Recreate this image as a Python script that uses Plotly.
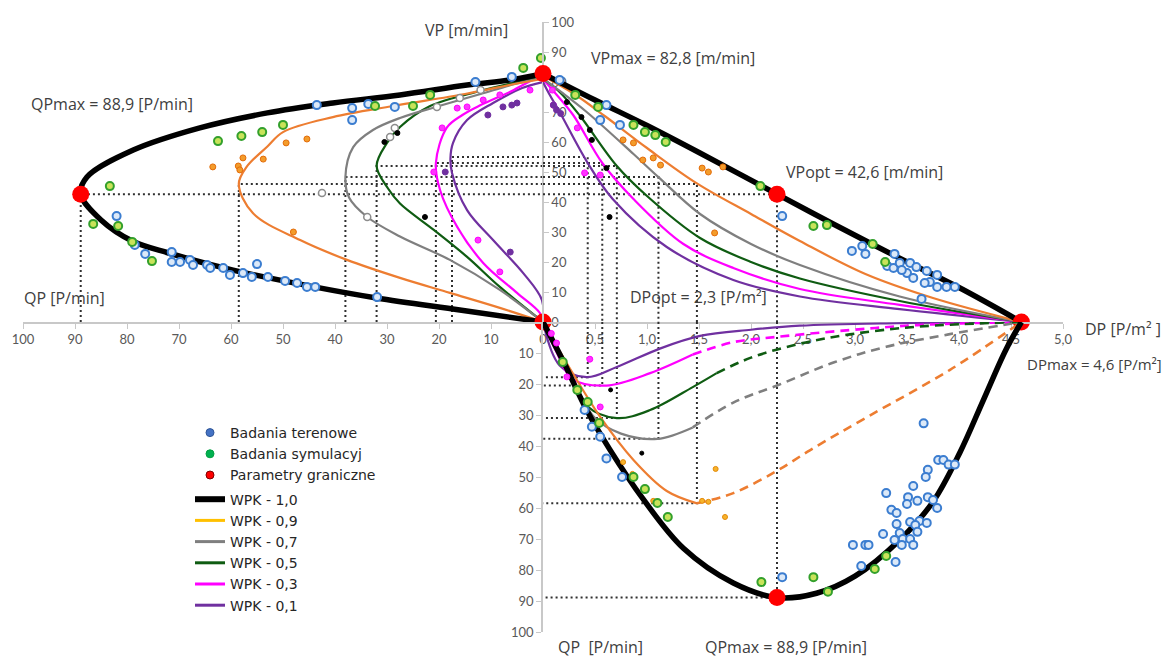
import plotly.graph_objects as go

# page body has an 8px margin: figure is sized to fill the rest of the 1172x657 window
OFF = 8
W, H = 1172 - OFF, 657 - OFF

# ---------------- axis ticks ----------------
LEFT_QP_TICKS = [0, 10, 20, 30, 40, 50, 60, 70, 80, 90, 100]
LEFT_QP_TEXT = ["0", "10", "20", "30", "40", "50", "60", "70", "80", "90", "100"]
DP_TICKS = [0, 0.5, 1.0, 1.5, 2.0, 2.5, 3.0, 3.5, 4.0, 4.5, 5.0]
DP_TEXT = ["", "0,5", "1,0", "1,5", "2,0", "2,5", "3,0", "3,5", "4,0", "4,5", "5,0"]
VP_TICKS = [0, 10, 20, 30, 40, 50, 60, 70, 80, 90, 100]
VP_TEXT = ["0", "10", "20", "30", "40", "50", "60", "70", "80", "90", "100"]
LOW_QP_TICKS = [0, 10, 20, 30, 40, 50, 60, 70, 80, 90, 100]
LOW_QP_TEXT = ["", "10", "20", "30", "40", "50", "60", "70", "80", "90", "100"]

WPK_NAMES = ["WPK - 1,0", "WPK - 0,9", "WPK - 0,7", "WPK - 0,5", "WPK - 0,3", "WPK - 0,1"]
WPK_COLORS = ["#000000", "#ed7d31", "#7f7f7f", "#0f5c12", "#ff00ff", "#7030a0"]
WPK_LEGEND_COLORS = ["#000000", "#ffc000", "#7f7f7f", "#0f5c12", "#ff00ff", "#7030a0"]
WPK_WIDTHS = [5.5, 2.2, 2.2, 2.2, 2.2, 2.2]

# ---------------- left quadrant: QP [P/min] vs VP [m/min] ----------------
L10_QP = [0, 16, 32, 44, 59.6, 72, 79, 85, 88.9, 87.7, 78.8, 66, 53, 40.4, 27.5, 14.6, 6.3, 0]
L10_VP = [0, 4, 8, 11.7, 17.3, 23, 27, 34, 42.6, 48.3, 57.3, 64.7, 69.7, 73, 75.7, 79, 80.7, 82.8]
L09_QP = [0, 8.3, 17.9, 27.5, 37.7, 46.7, 55.8, 58.5, 57, 53, 50, 40.4, 28.8, 15, 5, 0]
L09_VP = [0, 4.7, 9.7, 14.7, 20.7, 27.3, 36.3, 46, 51.7, 58.5, 63.3, 68.3, 72, 76, 79.5, 81]
L07_QP = [0, 8.3, 17.9, 27.5, 33.8, 37.3, 38, 36.5, 32.7, 27.5, 20, 12, 5, 0]
L07_VP = [0, 10.7, 20.7, 28.5, 35, 41.5, 48.3, 58.3, 64, 68, 72, 76, 79.5, 81.5]
L05_QP = [0, 8.3, 14.6, 21, 27.5, 29.8, 32, 30, 27.5, 21.7, 12, 5, 0]
L05_VP = [0, 11.7, 21.7, 30.7, 39.5, 44.5, 52, 59.7, 65, 72, 77, 80, 82]
L03_QP = [0, 0.6, 5, 11.5, 16.5, 19.8, 20.6, 18.5, 15.5, 12, 6, 2, 0]
L03_VP = [0, 3, 9.7, 19.7, 31.7, 44, 53, 64.8, 69, 72.3, 77, 80.7, 82]
L01_QP = [0, 0.2, 3.8, 9.6, 14.6, 17.5, 17.8, 17.3, 14.6, 9.6, 4, 0]
L01_VP = [0, 7.3, 16.3, 27.3, 37.3, 49.7, 54.5, 59.7, 67.3, 73, 78, 80]

# ---------------- upper right: DP [P/m2] vs VP [m/min] ----------------
U10_DP = [0, 0.5, 1.0, 1.5, 2.25, 2.8, 3.4, 4.0, 4.6]
U10_VP = [82.8, 74, 65.5, 56.5, 42.6, 32.5, 21.8, 11.5, 0]
U09_DP = [0, 0.3, 0.6, 1.0, 1.48, 2.0, 2.47, 3.1, 3.75, 4.6]
U09_VP = [82, 76, 68.5, 58, 46.2, 36, 27, 16, 8, 0]
U07_DP = [0, 0.2, 0.42, 0.87, 1.11, 1.51, 2.0, 2.47, 3.43, 4.6]
U07_VP = [81, 76, 70, 56, 48.3, 36, 26, 19, 8.5, 0]
U05_DP = [0, 0.15, 0.35, 0.71, 1.0, 1.51, 2.0, 2.47, 3.43, 4.6]
U05_VP = [81, 77, 69, 52, 42, 28, 20, 14.5, 7, 0]
U03_DP = [0, 0.1, 0.29, 0.57, 0.87, 1.35, 1.83, 2.47, 3.43, 4.6]
U03_VP = [81, 77, 69, 53, 41, 26, 18, 11, 5.7, 0]
U01_DP = [0, 0.06, 0.16, 0.43, 0.67, 1.19, 1.83, 2.47, 3.43, 4.6]
U01_VP = [80, 76, 70, 53, 41, 25, 14, 8.5, 4.3, 0]

# ---------------- lower right: DP [P/m2] vs QP [P/min] ----------------
D10_DP = [0, 0.2, 0.42, 0.64, 0.96, 1.35, 1.83, 2.25, 2.63, 3.0, 3.43, 3.75, 4.01, 4.23, 4.45, 4.6]
D10_QP = [0, 13, 28.4, 41, 57, 73, 84.2, 88.9, 87.5, 82, 70.3, 58, 42, 25.5, 9, 0]
D09_DP = [0, 0.25, 0.55, 0.87, 1.19, 1.48]
D09_QP = [0, 14.5, 30.6, 44.5, 54.5, 58.5]
D09_DP_DASH = [1.48, 1.83, 2.25, 2.57, 3.12, 3.91, 4.6]
D09_QP_DASH = [58.5, 55.2, 48, 41.3, 30.6, 15.5, 0]
D07_DP = [0, 0.25, 0.5, 0.75, 1.1, 1.44]
D07_QP = [0, 16, 31, 36, 37.7, 34]
D07_DP_DASH = [1.44, 1.83, 2.25, 2.8, 3.3, 3.9, 4.6]
D07_QP_DASH = [34, 26, 20.5, 13, 8, 4, 0]
D05_DP = [0, 0.2, 0.42, 0.71, 1.03, 1.44, 1.67]
D05_QP = [0, 13, 27, 31, 28.4, 21, 16.5]
D05_DP_DASH = [1.67, 2.0, 2.47, 2.95, 3.6, 4.6]
D05_QP_DASH = [16.5, 11.5, 7, 4, 1.5, 0]
D03_DP = [0, 0.12, 0.29, 0.61, 1.03, 1.44]
D03_QP = [0, 9, 18.5, 20.5, 16.5, 10.5]
D03_DP_DASH = [1.44, 1.83, 2.25, 2.95, 3.6, 4.6]
D03_QP_DASH = [10.5, 6.5, 4.8, 2.6, 1, 0]
D01_DP = [0, 0.16, 0.42, 0.71, 1.13, 1.51, 2.0, 2.47, 3.4, 4.6]
D01_QP = [0, 14, 17.8, 14.5, 8.5, 4.5, 2.5, 1.2, 0.4, 0]

# ---------------- optimum values per WPK (dotted guides) ----------------
OPT_QP_LEFT = [88.9, 58.5, 38, 32, 20.6, 17.5]
OPT_VP = [42.6, 46, 48.3, 52, 53, 55]
OPT_DP = [2.25, 1.48, 1.11, 0.71, 0.57, 0.43]
OPT_QP_LOW = [88.9, 58.5, 37.7, 31, 20.5, 17.8]

# ---------------- boundary parameters (red points) ----------------
RED_LEFT_QP = [88.9, 0]
RED_LEFT_VP = [42.6, 0]
RED_UP_DP = [0, 2.25, 4.6]
RED_UP_VP = [82.8, 42.6, 0]
RED_LOW_DP = [2.25]
RED_LOW_QP = [88.9]

# ---------------- field studies (blue) ----------------
BLUE_L_QP = [43.5, 36.7, 33.6, 28.5, 36.7, 82, 78.5, 76.5, 71.4, 71.4, 69.8, 67.9, 67.3, 64.6, 64, 61.5,
             60.2, 57.7, 56, 55, 52.9, 49.6, 47.3, 45.4, 43.8, 31.9, 13, 6]
BLUE_L_VP = [72.3, 71.3, 72.7, 71.7, 67.3, 35.3, 25.7, 22.7, 23.3, 20, 20, 20.7, 19, 19, 18, 18,
             15.7, 16.3, 15, 19.3, 15, 13.7, 13, 11.7, 11.7, 8.3, 80, 81.7]
BLUE_U_DP = [2.3, 2.97, 3.07, 3.1, 3.38, 3.31, 3.37, 3.43, 3.53, 3.59, 3.5, 3.56, 3.69, 3.79, 3.72, 3.67,
             3.79, 3.88, 3.96, 3.64, 3.45, 0.55, 0.61, 0.74, 0.16]
BLUE_U_VP = [35.3, 23.7, 25.3, 22.7, 22.7, 18.7, 18, 19.7, 19.7, 18.3, 16.3, 14.7, 17, 15.7, 13.3, 13,
             11.7, 11.7, 11.7, 7.7, 17.3, 67.3, 72.3, 65.7, 80.7]
BLUE_D_DP = [0.4, 0.47, 0.55, 0.61, 0.76, 2.3, 3.66, 3.8, 3.85, 3.9, 3.96, 3.7, 3.68, 3.56, 3.3, 3.51, 3.5,
             3.6, 3.7, 3.75, 3.79, 3.35, 3.4, 3.4, 3.53, 3.62, 3.58, 3.69, 3.6, 3.43, 3.27, 3.38, 3.46,
             3.53, 3.45, 3.56, 2.98, 3.1, 3.13, 3.06, 3.39]
BLUE_D_QP = [28.4, 33.8, 37, 44, 50, 82.3, 32.7, 44.5, 44.5, 46, 46, 47.7, 50, 52.9, 55.2, 56.5, 58.7,
             57.7, 56.5, 57.4, 60, 60.6, 61.6, 65.2, 64.5, 64.2, 65.5, 64.8, 67.7, 68.1, 68.4, 70.3, 70,
             70, 71.9, 71.9, 71.9, 71.9, 71.9, 78.7, 77.4]

# ---------------- simulation studies (green) ----------------
GREEN_L_QP = [50, 54, 58, 62.5, 32.3, 83.3, 86.5, 81.7, 79, 75.2, 3.8, 0.4, 21.7, 25]
GREEN_L_VP = [65.7, 63.3, 62, 60.3, 72, 45.3, 32.7, 32, 26.7, 20.3, 84.7, 88, 75.7, 72]
GREEN_U_DP = [2.09, 2.6, 2.73, 3.17, 3.29, 0.53, 0.87, 0.98, 1.08, 1.18, 0.31]
GREEN_U_VP = [45.3, 32, 32.3, 26, 20, 71.7, 65.7, 63.3, 62.3, 60, 75.7]
GREEN_D_DP = [0.19, 0.33, 0.43, 0.54, 0.87, 0.98, 1.1, 1.2, 2.1, 2.6, 2.74, 3.19, 3.3]
GREEN_D_QP = [12.9, 21.9, 25.8, 32.6, 50, 53.9, 58.4, 62.9, 83.9, 82.3, 87, 79.7, 75.5]

# ---------------- WPK simulation points ----------------
ORANGE_L_QP = [63.5, 58.6, 57.7, 58.3, 53.8, 49.4, 45.4, 48]
ORANGE_L_VP = [51.7, 52, 54.7, 50.7, 54.3, 59.7, 61, 30]
ORANGE_U_DP = [0.77, 0.87, 0.96, 1.06, 1.13, 1.53, 1.59, 1.73, 1.65]
ORANGE_U_VP = [60.7, 59.7, 54, 54.7, 52.3, 51.3, 50, 51.7, 29.7]
ORANGE_D_DP = [0.77, 0.86, 0.97, 1.06, 1.53, 1.59, 1.66, 1.75]
ORANGE_D_QP = [45.2, 49, 53.5, 57.7, 57.7, 58, 47.4, 62.9]
GRAY_L_QP = [42.5, 33.8, 29.4, 28.5, 12, 16, 20.4]
GRAY_L_VP = [43, 35, 61.7, 64.7, 77.3, 74.7, 71.7]
BLACK_L_QP = [22.7, 28, 30.5]
BLACK_L_VP = [35, 63, 60]
BLACK_U_DP = [0.23, 0.37, 0.45, 0.47, 0.61, 0.64]
BLACK_U_VP = [73.3, 68.3, 64, 60.7, 51.3, 35]
BLACK_D_DP = [0.65, 0.95]
BLACK_D_QP = [21.9, 42.3]
MAG_L_QP = [19.4, 14.6, 12.5, 8.3, 21, 16.5, 11.5, 8.3, 2.5]
MAG_L_VP = [64.7, 71.7, 27.3, 16.7, 50, 71.3, 74, 75.7, 77.3]
MAG_U_DP = [0.1, 0.33, 0.4, 0.55, 0.09]
MAG_U_VP = [72.3, 64.7, 49.7, 49, 77.3]
MAG_D_DP = [0.45, 0.55, 0.08, 0.13, 0.23]
MAG_D_QP = [12, 27.4, 3.7, 6.8, 17.7]
PURP_L_QP = [7.7, 6, 5, 10.6, 18.8, 6.3]
PURP_L_VP = [71.7, 72.3, 73, 69, 50, 23.3]
PURP_U_DP = [0.1, 0.13, 0.17]
PURP_U_VP = [72.3, 70.7, 69.5]

fig = go.Figure()

# window-pixel positions of the axes (converted to paper fractions below)
XL, XM, XR = 23, 543, 1063   # x of QP=100, origin, DP=5
YT, YM, YB = 22, 322, 632    # y of VP=100, origin, QP=100


def fx(px):
    return (px - OFF) / W


def fy(py):
    return 1 - (py - OFF) / H


GUIDE = dict(color="#303030", width=2, dash="2px,3px")

# dotted guide lines
for i in range(len(OPT_VP)):
    fig.add_trace(go.Scatter(x=[OPT_QP_LEFT[i], OPT_QP_LEFT[i], 0], y=[0, OPT_VP[i], OPT_VP[i]],
                             xaxis="x", yaxis="y", mode="lines", line=GUIDE, showlegend=False, hoverinfo="skip"))
    fig.add_trace(go.Scatter(x=[0, OPT_DP[i], OPT_DP[i]], y=[OPT_VP[i], OPT_VP[i], 0],
                             xaxis="x2", yaxis="y", mode="lines", line=GUIDE, showlegend=False, hoverinfo="skip"))
    fig.add_trace(go.Scatter(x=[OPT_DP[i], OPT_DP[i], 0], y=[0, OPT_QP_LOW[i], OPT_QP_LOW[i]],
                             xaxis="x2", yaxis="y2", mode="lines", line=GUIDE, showlegend=False, hoverinfo="skip"))

left_curves = [(L10_QP, L10_VP), (L09_QP, L09_VP), (L07_QP, L07_VP), (L05_QP, L05_VP), (L03_QP, L03_VP), (L01_QP, L01_VP)]
up_curves = [(U10_DP, U10_VP), (U09_DP, U09_VP), (U07_DP, U07_VP), (U05_DP, U05_VP), (U03_DP, U03_VP), (U01_DP, U01_VP)]
low_curves = [(D10_DP, D10_QP), (D09_DP, D09_QP), (D07_DP, D07_QP), (D05_DP, D05_QP), (D03_DP, D03_QP), (D01_DP, D01_QP)]
low_dash = [None, (D09_DP_DASH, D09_QP_DASH), (D07_DP_DASH, D07_QP_DASH), (D05_DP_DASH, D05_QP_DASH),
            (D03_DP_DASH, D03_QP_DASH), None]

# draw thinner curves first, black last
for i in reversed(range(6)):
    ln = dict(color=WPK_COLORS[i], width=WPK_WIDTHS[i], shape="spline", smoothing=1.0)
    fig.add_trace(go.Scatter(x=left_curves[i][0], y=left_curves[i][1], xaxis="x", yaxis="y", mode="lines",
                             line=ln, showlegend=False, hoverinfo="skip"))
    fig.add_trace(go.Scatter(x=up_curves[i][0], y=up_curves[i][1], xaxis="x2", yaxis="y", mode="lines",
                             line=ln, showlegend=False, hoverinfo="skip"))
    fig.add_trace(go.Scatter(x=low_curves[i][0], y=low_curves[i][1], xaxis="x2", yaxis="y2", mode="lines",
                             line=ln, showlegend=False, hoverinfo="skip"))
    if low_dash[i] is not None:
        lnd = dict(color=WPK_COLORS[i], width=2.6, dash="9px,6px", shape="spline", smoothing=1.0)
        fig.add_trace(go.Scatter(x=low_dash[i][0], y=low_dash[i][1], xaxis="x2", yaxis="y2", mode="lines",
                                 line=lnd, showlegend=False, hoverinfo="skip"))


def pts(x, y, xa, ya, size, color, lcolor, lw):
    fig.add_trace(go.Scatter(x=x, y=y, xaxis=xa, yaxis=ya, mode="markers", cliponaxis=False,
                             marker=dict(size=size, color=color, line=dict(color=lcolor, width=lw)),
                             showlegend=False, hoverinfo="skip"))


# WPK simulation points
pts(ORANGE_L_QP, ORANGE_L_VP, "x", "y", 6, "#f39c2b", "#e36c0a", 1)
pts(ORANGE_U_DP, ORANGE_U_VP, "x2", "y", 6, "#f39c2b", "#e36c0a", 1)
pts(ORANGE_D_DP, ORANGE_D_QP, "x2", "y2", 5, "#f7b32b", "#e38a0a", 1)
pts(GRAY_L_QP, GRAY_L_VP, "x", "y", 7, "#ffffff", "#8c8c8c", 1.5)
pts(BLACK_L_QP, BLACK_L_VP, "x", "y", 5, "#000000", "#000000", 1)
pts(BLACK_U_DP, BLACK_U_VP, "x2", "y", 5, "#000000", "#000000", 1)
pts(BLACK_D_DP, BLACK_D_QP, "x2", "y2", 4, "#000000", "#000000", 1)
pts(MAG_L_QP, MAG_L_VP, "x", "y", 6, "#ff33ff", "#ff00ff", 1)
pts(MAG_U_DP, MAG_U_VP, "x2", "y", 6, "#ff33ff", "#ff00ff", 1)
pts(MAG_D_DP, MAG_D_QP, "x2", "y2", 6, "#ff33ff", "#ff00ff", 1)
pts(PURP_L_QP, PURP_L_VP, "x", "y", 6, "#7030a0", "#7030a0", 1)
pts(PURP_U_DP, PURP_U_VP, "x2", "y", 6, "#7030a0", "#7030a0", 1)

# field (blue) and simulation (green) studies
for xs, ys, xa, ya in [(BLUE_L_QP, BLUE_L_VP, "x", "y"), (BLUE_U_DP, BLUE_U_VP, "x2", "y"), (BLUE_D_DP, BLUE_D_QP, "x2", "y2")]:
    pts(xs, ys, xa, ya, 8, "#dce9f8", "#3b7dd0", 2)
for xs, ys, xa, ya in [(GREEN_L_QP, GREEN_L_VP, "x", "y"), (GREEN_U_DP, GREEN_U_VP, "x2", "y"), (GREEN_D_DP, GREEN_D_QP, "x2", "y2")]:
    pts(xs, ys, xa, ya, 8, "#c9e35a", "#33a02c", 2)

# boundary parameters (red)
pts(RED_LEFT_QP, RED_LEFT_VP, "x", "y", 17, "#ff0000", "#ff0000", 0)
pts(RED_UP_DP, RED_UP_VP, "x2", "y", 17, "#ff0000", "#ff0000", 0)
pts(RED_LOW_DP, RED_LOW_QP, "x2", "y2", 17, "#ff0000", "#ff0000", 0)

# legend entries
LEG_MARKERS = [("Badania terenowe", "#4472c4", "#2f5597"), ("Badania symulacyj", "#00b050", "#00a040"),
               ("Parametry graniczne", "#ff0000", "#7f0000")]
for name, c, lc in LEG_MARKERS:
    fig.add_trace(go.Scatter(x=[None], y=[None], xaxis="x", yaxis="y", mode="markers", name=name,
                             legendgroup="points",
                             marker=dict(size=8, color=c, line=dict(color=lc, width=1))))
for i in range(6):
    fig.add_trace(go.Scatter(x=[None], y=[None], xaxis="x", yaxis="y", mode="lines", name=WPK_NAMES[i],
                             legendgroup="wpk",
                             line=dict(color=WPK_LEGEND_COLORS[i], width=6 if i == 0 else 3)))

TICKFONT = dict(family="Lato, Open Sans, sans-serif", size=13, color="#595959")
AX = dict(showgrid=False, zeroline=False, showline=True, linecolor="#c8c8c8", linewidth=1.5,
          ticks="outside", ticklen=5, tickcolor="#c8c8c8", tickfont=TICKFONT, tickmode="array",
          automargin=False)

fig.update_layout(
    width=W, height=H, margin=dict(l=0, r=0, t=0, b=0, pad=0, autoexpand=False),
    plot_bgcolor="white", paper_bgcolor="white",
    xaxis=dict(AX, domain=[fx(XL), fx(XM)], range=[100, 0], anchor="y",
               tickvals=LEFT_QP_TICKS, ticktext=LEFT_QP_TEXT),
    xaxis2=dict(AX, domain=[fx(XM), fx(XR)], range=[0, 5], anchor="y",
                tickvals=DP_TICKS, ticktext=DP_TEXT),
    yaxis=dict(AX, domain=[fy(YM), fy(YT)], range=[0, 100], anchor="free", position=fx(XM),
               side="right", tickvals=VP_TICKS, ticktext=VP_TEXT),
    yaxis2=dict(AX, domain=[fy(YB), fy(YM)], range=[100, 0], anchor="x2", side="left",
                tickvals=LOW_QP_TICKS, ticktext=LOW_QP_TEXT),
    legend=dict(x=fx(190), y=fy(417), xanchor="left", yanchor="top", bgcolor="rgba(0,0,0,0)",
                font=dict(family="DejaVu Sans, sans-serif", size=14, color="#262626"),
                tracegroupgap=3, itemwidth=30, groupclick="toggleitem"),
    showlegend=True,
)

LABELS = [
    ("VP [m/min]", 423, 30, 16), ("VPmax = 82,8 [m/min]", 589, 58, 16), ("QPmax = 88,9 [P/min]", 29, 104, 16),
    ("QP [P/min]", 22, 298, 16), ("DPopt = 2,3 [P/m²]", 628, 297, 16), ("VPopt = 42,6 [m/min]", 784, 172, 16),
    ("DP [P/m² ]", 1083, 329, 16), ("DPmax = 4,6 [P/m²]", 1025, 364, 15), ("QP  [P/min]", 556, 647, 16),
    ("QPmax = 88,9 [P/min]", 703, 647, 16),
]
for text, px, py, fs in LABELS:
    fig.add_annotation(text=text, x=fx(px), y=fy(py), xref="paper", yref="paper", xanchor="left",
                       yanchor="middle", showarrow=False,
                       font=dict(family="Open Sans, sans-serif", size=fs, color="#404040"))

fig.write_html("out.html")
